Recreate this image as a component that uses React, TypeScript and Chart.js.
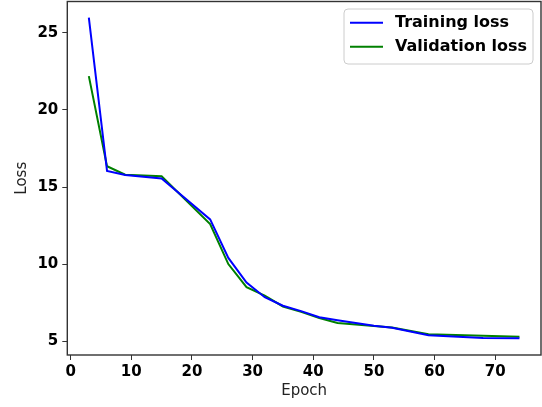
import React, { useEffect, useRef } from "react";
import { Chart, registerables } from "chart.js";

Chart.register(...registerables);

const epochs = [3, 6, 9, 15, 23, 26, 29, 32, 35, 38, 41, 44, 50, 53, 59, 68, 74];
const trainingLoss = [26.0, 16.05, 15.78, 15.55, 12.9, 10.4, 8.8, 7.85, 7.3, 6.95, 6.55, 6.35, 6.0, 5.87, 5.38, 5.2, 5.18];
const validationLoss = [22.2, 16.35, 15.8, 15.7, 12.6, 10.0, 8.5, 7.95, 7.25, 6.9, 6.5, 6.18, 5.98, 5.88, 5.45, 5.35, 5.28];
const xTicks = [0, 10, 20, 30, 40, 50, 60, 70];
const yTicks = [5, 10, 15, 20, 25];
const seriesNames = ["Training loss", "Validation loss"];
const seriesColors = ["#0000ff", "#008000"];

const FONT = "'DejaVu Sans', sans-serif";

const framePlugin = {
  id: "frame",
  afterDraw(chart: any) {
    const { ctx, chartArea } = chart;
    const { left, top, right, bottom } = chartArea;
    ctx.save();
    ctx.strokeStyle = "#333";
    ctx.lineWidth = 1.4;
    ctx.strokeRect(left, top, right - left, bottom - top);

    // legend
    const bx = 344, by = 9, bw = 189, bh = 55, r = 4;
    ctx.beginPath();
    ctx.moveTo(bx + r, by);
    ctx.lineTo(bx + bw - r, by);
    ctx.quadraticCurveTo(bx + bw, by, bx + bw, by + r);
    ctx.lineTo(bx + bw, by + bh - r);
    ctx.quadraticCurveTo(bx + bw, by + bh, bx + bw - r, by + bh);
    ctx.lineTo(bx + r, by + bh);
    ctx.quadraticCurveTo(bx, by + bh, bx, by + bh - r);
    ctx.lineTo(bx, by + r);
    ctx.quadraticCurveTo(bx, by, bx + r, by);
    ctx.closePath();
    ctx.fillStyle = "rgba(255,255,255,0.8)";
    ctx.fill();
    ctx.strokeStyle = "#cccccc";
    ctx.lineWidth = 1;
    ctx.stroke();
    const rows = [22.7, 46.7];
    ctx.font = "bold 16px " + FONT;
    ctx.textBaseline = "middle";
    ctx.textAlign = "left";
    seriesNames.forEach((name, i) => {
      ctx.strokeStyle = seriesColors[i];
      ctx.lineWidth = 2;
      ctx.beginPath();
      ctx.moveTo(350, rows[i]);
      ctx.lineTo(383, rows[i]);
      ctx.stroke();
      ctx.fillStyle = "#000";
      ctx.fillText(name, 395, rows[i]);
    });
    ctx.restore();
  },
};

export default function App() {
  const ref = useRef<HTMLCanvasElement | null>(null);
  useEffect(() => {
    document.body.style.margin = "0";
    const canvas = ref.current!;
    const chart = new Chart(canvas, {
      type: "line",
      data: {
        datasets: [
          {
            label: seriesNames[0],
            data: epochs.map((e, i) => ({ x: e, y: trainingLoss[i] })),
            borderColor: seriesColors[0],
            borderWidth: 2,
            pointRadius: 0,
            tension: 0,
            fill: false,
          },
          {
            label: seriesNames[1],
            data: epochs.map((e, i) => ({ x: e, y: validationLoss[i] })),
            borderColor: seriesColors[1],
            borderWidth: 2,
            pointRadius: 0,
            tension: 0,
            fill: false,
          },
        ],
      },
      options: {
        animation: false,
        responsive: false,
        devicePixelRatio: 1,
        layout: { padding: { top: 1.5, right: 1, left: 0, bottom: 0 } },
        plugins: { legend: { display: false }, tooltip: { enabled: false } },
        scales: {
          x: {
            type: "linear",
            min: -0.55,
            max: 77.55,
            afterBuildTicks: (s: any) => {
              s.ticks = xTicks.map((v) => ({ value: v }));
            },
            afterFit: (s: any) => {
              s.height = 52;
              s.paddingLeft = 0;
              s.paddingRight = 0;
            },
            grid: { drawOnChartArea: false, tickLength: 5, tickColor: "#333", tickWidth: 1 },
            border: { display: false },
            ticks: {
              padding: 3,
              color: "#000",
              maxRotation: 0,
              font: { family: FONT, size: 15, weight: "bold" },
            },
            title: {
              display: true,
              text: "Epoch",
              color: "#222",
              font: { family: FONT, size: 15 },
              padding: { top: 0, bottom: 6.5 },
            },
          },
          y: {
            type: "linear",
            min: 4.1,
            max: 27.04,
            afterBuildTicks: (s: any) => {
              s.ticks = yTicks.map((v) => ({ value: v }));
            },
            afterFit: (s: any) => {
              s.width = 67.3;
              s.paddingTop = 0;
              s.paddingBottom = 0;
            },
            grid: { drawOnChartArea: false, tickLength: 5, tickColor: "#333", tickWidth: 1 },
            border: { display: false },
            ticks: {
              padding: 4,
              color: "#000",
              font: { family: FONT, size: 15, weight: "bold" },
            },
            title: {
              display: true,
              text: "Loss",
              color: "#222",
              font: { family: FONT, size: 15 },
              padding: { top: 13, bottom: 0 },
            },
          },
        },
      },
      plugins: [framePlugin],
    });
    return () => chart.destroy();
  }, []);
  return <canvas ref={ref} width={542} height={407} style={{ display: "block" }} />;
}
